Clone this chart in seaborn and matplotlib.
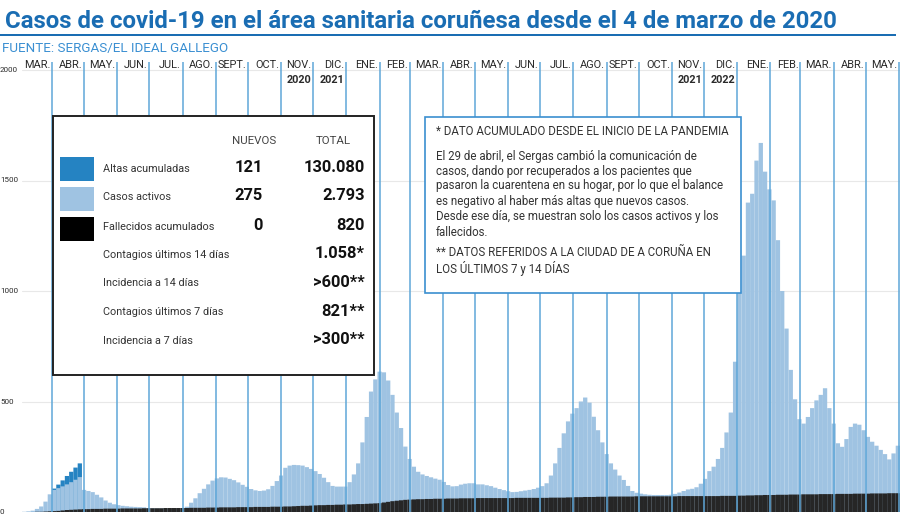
import numpy as np
import pandas as pd
import matplotlib
matplotlib.use("Agg")
import matplotlib.pyplot as plt
import matplotlib.transforms as mtransforms
from matplotlib.patches import Rectangle
from matplotlib import font_manager as fm
import seaborn as sns

# ---------------- DATA ----------------
inicio = "2020-03-04"          # first day of the series
paso_dias = 4                  # each bar covers 4 days

# plotted height of "casos activos" (light blue), one value per 4-day bar
casos_activos = [
    1, 3, 6, 14, 25, 47, 80, 100, 108, 116, 125, 135, 146, 158,
    100, 95, 90, 78, 66, 52, 42, 35, 31, 28, 26, 24, 23, 22, 21, 18,
    17, 16, 16, 16, 16, 16, 17, 18, 24, 42, 62, 85, 105, 125, 142, 152,
    157, 156, 150, 144, 134, 123, 114, 104, 98, 95, 97, 103, 118, 140,
    165, 200, 210, 213, 212, 210, 203, 195, 185, 172, 155, 135, 118, 115,
    115, 115, 135, 170, 220, 315, 430, 545, 600, 635, 632, 595, 530, 450,
    380, 296, 240, 205, 182, 170, 163, 157, 151, 146, 136, 122, 116, 117,
    124, 128, 130, 130, 125, 125, 121, 117, 110, 104, 99, 94, 90, 91,
    94, 97, 100, 104, 110, 117, 130, 165, 220, 290, 356, 410, 445, 470,
    500, 518, 495, 431, 370, 315, 262, 220, 192, 165, 145, 118, 95, 87,
    83, 80, 78, 77, 77, 77, 77, 78, 82, 88, 95, 102, 105, 112, 128, 150,
    185, 205, 240, 290, 360, 450, 680, 1000, 1160, 1400, 1440, 1590, 1670,
    1540, 1460, 1410, 1230, 1000, 830, 643, 510, 420, 400, 430, 470, 505,
    530, 560, 470, 400, 311, 295, 330, 385, 400, 395, 370, 340, 318, 300,
    281, 262, 238, 265, 300,
]

# cumulative deaths band (black), same bars
fallecidos = [
    0, 0, 0, 1, 1, 2, 3, 4, 5, 7, 9, 10, 11, 12,
    13, 13, 14, 14, 14, 15, 15, 15, 15, 16, 16, 16, 16, 16, 17, 17, 17,
    17, 17, 18, 18, 18, 18, 18, 18, 19, 19, 19, 19, 20, 20, 20, 21, 21, 21,
    21, 22, 22, 22, 22, 23, 23, 23, 23, 24, 24, 24, 25, 25, 26, 27,
    28, 28, 29, 30, 31, 31, 32, 32, 33, 33, 34, 34, 35, 36, 36, 37, 38, 39,
    40, 43, 46, 49, 51, 53, 55, 56, 57,
    58, 58, 59, 59, 60, 60, 60, 61, 61, 61, 62, 62, 62, 62, 63, 63, 63, 63, 63,
    63, 63, 63, 63, 64, 64, 64, 64, 64, 64, 64, 64, 65, 65, 65, 65, 66, 66,
    67, 67, 68, 68, 68, 69, 69, 69, 70, 70, 70, 70,
    70, 70, 71, 71, 71, 71, 71, 71, 71, 71, 71, 71, 72, 72, 72, 72, 72, 72,
    72, 72, 72, 72, 73, 73, 73,
    73, 74, 74, 75, 75, 76, 76, 77, 77, 77, 78, 78, 78, 79, 79, 79, 80, 80,
    80, 80, 81, 81, 81, 81, 82, 82, 82, 82, 83, 83, 83, 83, 84, 84, 84, 84,
    85, 85, 85,
]

# cumulative discharges (dark blue) stacked on top, until 29 April 2020
altas_dia_inicio = [28, 32, 36, 40, 44, 48, 52]
altas = [6, 16, 27, 38, 47, 55, 62]

meses = ["MAR.", "ABR.", "MAY.", "JUN.", "JUL.", "AGO.", "SEPT.", "OCT.",
         "NOV.", "DIC.", "ENE.", "FEB.", "MAR.", "ABR.", "MAY.", "JUN.",
         "JUL.", "AGO.", "SEPT.", "OCT.", "NOV.", "DIC.", "ENE.", "FEB.",
         "MAR.", "ABR.", "MAY."]
anios = {8: "2020", 9: "2021", 20: "2021", 21: "2022"}   # month index -> year label

y_ticks = [0, 500, 1000, 1500, 2000]

titulo = "Casos de covid-19 en el área sanitaria coruñesa desde el 4 de marzo de 2020"
fuente = "FUENTE: SERGAS/EL IDEAL GALLEGO"

leyenda_filas = ["Altas acumuladas", "Casos activos", "Fallecidos acumulados",
                 "Contagios últimos 14 días", "Incidencia a 14 días",
                 "Contagios últimos 7 días", "Incidencia a 7 días"]
leyenda_nuevos = ["121", "275", "0"]
leyenda_total = ["130.080", "2.793", "820", "1.058*", ">600**", "821**", ">300**"]

nota = ["* DATO ACUMULADO DESDE EL INICIO DE LA PANDEMIA",
        "El 29 de abril, el Sergas cambió la comunicación de",
        "casos, dando por recuperados a los pacientes que",
        "pasaron la cuarentena en su hogar, por lo que el balance",
        "es negativo al haber más altas que nuevos casos.",
        "Desde ese día, se muestran solo los casos activos y los",
        "fallecidos.",
        "** DATOS REFERIDOS A LA CIUDAD DE A CORUÑA EN",
        "LOS ÚLTIMOS 7 y 14 DÍAS"]

# ---------------- STYLE ----------------
sns.set_theme(style="white")


def has_font(name):
    try:
        fm.findfont(fm.FontProperties(family=name), fallback_to_default=False)
        return True
    except Exception:
        return False


BASE = "Roboto" if has_font("Roboto") else "DejaVu Sans"
NARROW = "Liberation Sans Narrow" if has_font("Liberation Sans Narrow") else BASE
plt.rcParams["font.family"] = [NARROW, BASE, "DejaVu Sans"]
FAM = [NARROW, BASE, "DejaVu Sans"]

C_TITLE = "#1a6db3"
C_SUB = "#3a8fd2"
C_LIGHT = "#9fc3e2"
C_DARK = "#2583c2"
C_BLACK = "#262626"
C_MONTH = "#5fa7d8"
C_TEXT = "#2a2a2a"

W, H = 900, 518
fig = plt.figure(figsize=(W / 100, H / 100), dpi=100)
fig.patch.set_facecolor("white")


def fx(x):
    return x / W


def fy(y):
    return 1 - y / H


Y0_PX, Y2000_PX, TOP_PX = 512, 70, 62
ppu = (Y0_PX - Y2000_PX) / 2000.0
ytop = 2000 + (Y2000_PX - TOP_PX) / ppu

ax = fig.add_axes([fx(22), fy(Y0_PX), fx(900) - fx(22), fy(TOP_PX) - fy(Y0_PX)])

n = len(casos_activos)
dias_centro = np.arange(n) * paso_dias + paso_dias / 2.0
df = pd.DataFrame({"dia": dias_centro, "activos": casos_activos, "fallecidos": fallecidos})

df_altas = pd.DataFrame({"dia": np.array(altas_dia_inicio) + paso_dias / 2.0,
                         "total": [casos_activos[int(d // paso_dias)] + a
                                   for d, a in zip(altas_dia_inicio, altas)]})

bar_kw = dict(native_scale=True, orient="x", saturation=1, errorbar=None,
              linewidth=0, snap=False, width=1.0, ax=ax)
sns.barplot(data=df_altas, x="dia", y="total", color=C_DARK, **bar_kw)
sns.barplot(data=df, x="dia", y="activos", color=C_LIGHT, **bar_kw)
sns.barplot(data=df, x="dia", y="fallecidos", color=C_BLACK, **bar_kw)

ax.set_xlim(0, n * paso_dias)
ax.set_ylim(0, ytop)
ax.set_xlabel("")
ax.set_ylabel("")
ax.set_yticks(y_ticks)
ax.yaxis.grid(True, color="#e8e8e8", lw=0.8)
ax.xaxis.grid(False)
ax.set_axisbelow(True)
ax.tick_params(left=False, bottom=False, labelleft=False, labelbottom=False)
for s in ax.spines.values():
    s.set_visible(False)

# month boundaries
t0 = pd.Timestamp(inicio)
limites = pd.date_range("2020-04-01", periods=len(meses), freq="MS")
lim_dias = np.array([(d - t0).days for d in limites])
ax.vlines(lim_dias, 0, ytop, colors=C_MONTH, lw=1.1, zorder=5)

renderer = fig.canvas.get_renderer()


def fit(t, width_px):
    w = t.get_window_extent(renderer=renderer).width
    t.set_fontsize(t.get_fontsize() * width_px / w)
    return t.get_fontsize()


def fitted(text, width_px, **kw):
    p = fig.text(0, 0, text, fontsize=9, family=FAM, **kw)
    s = fit(p, width_px)
    p.remove()
    return s


trans_month = mtransforms.blended_transform_factory(ax.transData, fig.transFigure)
fs_month = fitted("SEPT.", 29)
fs_year = fitted("2020", 25, fontweight="bold")
off = 1.6  # days
for i, name in enumerate(meses):
    ax.text(lim_dias[i] - off, fy(68), name, transform=trans_month, ha="right",
            va="baseline", fontsize=fs_month, color=C_TEXT, clip_on=False, family=FAM)
    if i in anios:
        ax.text(lim_dias[i] - off, fy(83), anios[i], transform=trans_month,
                ha="right", va="baseline", fontsize=fs_year, fontweight="bold",
                color=C_TEXT, clip_on=False, family=FAM)

# y tick labels at far left
trans_y = mtransforms.blended_transform_factory(fig.transFigure, ax.transData)
fs_y = fitted("1500", 18)
for v in y_ticks:
    ax.text(0.0, v, str(v), transform=trans_y, ha="left", va="center",
            fontsize=fs_y, color=C_TEXT, clip_on=False, family=FAM)

# title, rule, source
t = fig.text(fx(5), fy(28), titulo, fontsize=20, fontweight="bold",
             color=C_TITLE, ha="left", va="baseline", family=FAM)
fit(t, 833)
fig.add_artist(Rectangle((fx(0), fy(36)), fx(896), 2 / H, transform=fig.transFigure,
                         facecolor=C_TITLE, edgecolor="none"))
t = fig.text(fx(2), fy(51.7), fuente, fontsize=10,
             color=C_SUB, ha="left", va="baseline", family=FAM)
fit(t, 226)

# legend box
fig.add_artist(Rectangle((fx(52.5), fy(375)), fx(374) - fx(52.5), fy(116) - fy(375),
                         transform=fig.transFigure, facecolor="white",
                         edgecolor="#222222", lw=1.4, zorder=6))
fs_lab = fitted("Contagios últimos 14 días", 127)
fs_val = fitted("130.080", 62, fontweight="bold")
fs_head = fitted("NUEVOS", 44)

fig.text(fx(254), fy(141), "NUEVOS", fontsize=fs_head,
         ha="center", va="center", color="#444444", zorder=7, family=FAM)
fig.text(fx(333), fy(141), "TOTAL", fontsize=fs_head,
         ha="center", va="center", color="#444444", zorder=7, family=FAM)
sw_colors = [C_DARK, C_LIGHT, "black"]
sw_top = [157, 187, 217]
for c, top in zip(sw_colors, sw_top):
    fig.add_artist(Rectangle((fx(60), fy(top + 24)), fx(34), 24 / H,
                             transform=fig.transFigure, facecolor=c,
                             edgecolor="none", zorder=7))
row_y = [168.5, 197.5, 226.5, 255, 283.5, 312, 341]
val_y = [167, 196, 225, 254, 282.5, 311, 340]
for lab, yy in zip(leyenda_filas, row_y):
    fig.text(fx(103), fy(yy), lab, fontsize=fs_lab,
             ha="left", va="center", color="#333333", zorder=7, family=FAM)
for v, yy in zip(leyenda_nuevos, val_y):
    fig.text(fx(263), fy(yy), v, fontsize=fs_val, fontweight="bold",
             ha="right", va="center", color="#111111", zorder=7, family=FAM)
for v, yy in zip(leyenda_total, val_y):
    fig.text(fx(365), fy(yy), v, fontsize=fs_val, fontweight="bold",
             ha="right", va="center", color="#111111", zorder=7, family=FAM)

# note box
fig.add_artist(Rectangle((fx(425), fy(293)), fx(741) - fx(425), fy(117) - fy(293),
                         transform=fig.transFigure, facecolor="white",
                         edgecolor="#3b8fd0", lw=1.2, zorder=6))
fs_note = fitted(nota[3], 291)
nota_y = [132, 156, 171, 186, 201, 217, 232, 253, 269]
for line, yy in zip(nota, nota_y):
    fig.text(fx(436), fy(yy), line, fontsize=fs_note,
             ha="left", va="center", color="#333333", zorder=7, family=FAM)

fig.savefig("out.png", dpi=100, facecolor="white")
